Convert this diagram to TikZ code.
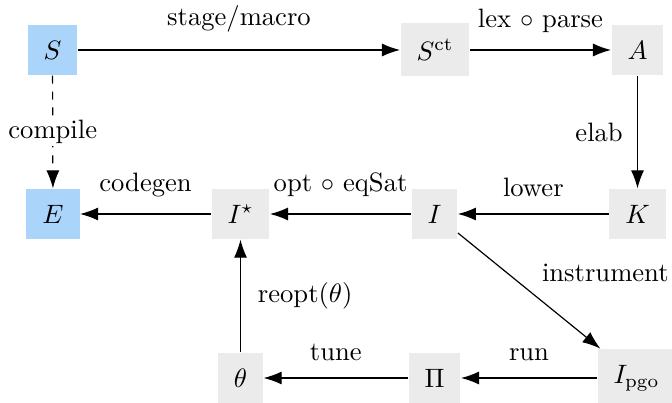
\documentclass[tikz,border=0pt]{standalone}
\usetikzlibrary{arrows.meta}
\definecolor{srcblue}{RGB}{170,212,250}
\definecolor{boxgray}{RGB}{235,235,235}
\tikzset{
  stagebox/.style={fill=boxgray, inner sep=6pt, minimum height=18.6pt, minimum width=16.5pt},
  srcbox/.style={stagebox, fill=srcblue},
  flow/.style={-{Latex[length=6.8pt,width=4.9pt]}, line width=0.45pt},
}
\begin{document}
\begin{tikzpicture}[x=0.376pt, y=-0.376pt]
\useasboundingbox (0,0) rectangle (672,403);
% row 1
\node[srcbox]   (S)   at (52.5,50)  {$S$};
\node[stagebox] (Sct) at (435,50)   {$S^{\mathrm{ct}}$};
\node[stagebox] (A)   at (637.5,50) {$A$};
% row 2
\node[srcbox]   (E)   at (53,214)   {$E$};
\node[stagebox] (Is)  at (240.5,214){$I^{\star}$};
\node[stagebox] (I)   at (434.5,214){$I$};
\node[stagebox] (K)   at (637.5,214){$K$};
% row 3
\node[stagebox] (th)  at (240.5,378){$\theta$};
\node[stagebox] (Pi)  at (434.5,378){$\Pi$};
\node[stagebox] (Ip)  at (636.5,378){$I_{\mathrm{pgo}}$};
% connectors
\draw[flow] (S) -- node[above=3pt] {stage/macro} (Sct);
\draw[flow] (Sct) -- node[above=3pt] {lex $\circ$ parse} (A);
\draw[flow] (A) -- node[left=2pt] {elab} (K);
\draw[flow] (K) -- node[above=3pt] {lower} (I);
\draw[flow] (I) -- node[above=3pt] {opt $\circ$ eqSat} (Is);
\draw[flow] (Is) -- node[above=3pt] {codegen} (E);
\draw[flow, dashed] (S) -- node[fill=white, inner sep=1pt] {compile} (E);
\draw[flow] (I) -- node[above right, xshift=1.3pt] {instrument} (Ip);
\draw[flow] (Ip) -- node[above=3pt] {run} (Pi);
\draw[flow] (Pi) -- node[above=3pt] {tune} (th);
\draw[flow] (th) -- node[right=3pt] {reopt$(\theta)$} (Is);
\end{tikzpicture}
\end{document}
